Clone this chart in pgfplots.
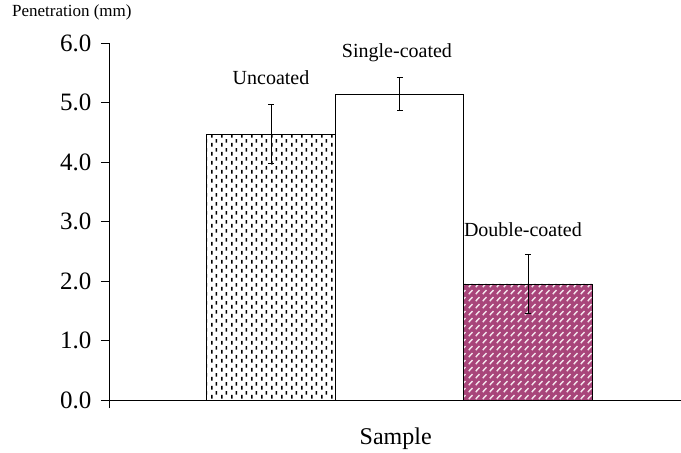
\documentclass[border=0pt]{standalone}
\usepackage{fontspec}
\setmainfont{Liberation Serif}
\usepackage{pgfplots}
\pgfplotsset{compat=1.18}
\usetikzlibrary{patterns}
\definecolor{plum}{RGB}{168,69,122}

\pgfdeclarepatternformonly{vdashes}{\pgfqpoint{0pt}{0pt}}{\pgfqpoint{10pt}{9pt}}{\pgfqpoint{10pt}{9pt}}{%
  \pgfsetlinewidth{1.6pt}%
  \pgfpathmoveto{\pgfqpoint{2pt}{0.4pt}}\pgfpathlineto{\pgfqpoint{2pt}{4.6pt}}%
  \pgfpathmoveto{\pgfqpoint{7pt}{4.9pt}}\pgfpathlineto{\pgfqpoint{7pt}{8.6pt}}%
  \pgfusepath{stroke}}

\pgfdeclarepatternformonly{ddiag}{\pgfqpoint{0pt}{0pt}}{\pgfqpoint{6.5pt}{6.7pt}}{\pgfqpoint{6.5pt}{6.7pt}}{%
  \pgfsetlinewidth{1.5pt}%
  \pgfpathmoveto{\pgfqpoint{0.8pt}{1pt}}\pgfpathlineto{\pgfqpoint{4.8pt}{5pt}}%
  \pgfusepath{stroke}}

\begin{document}
\begin{tikzpicture}
\useasboundingbox (0,0) rectangle (681pt,453pt);
\begin{axis}[
  at={(109pt,53pt)}, anchor=south west,
  scale only axis, width=572pt, height=357pt,
  xmin=-0.2607, xmax=4.19, ymin=0, ymax=6,
  clip=false,
  axis x line=bottom, axis y line=left,
  axis line style={-, line width=0.8pt, black},
  tick align=outside, major tick length=8pt,
  tick style={black, line width=0.8pt},
  ytick={0,1,2,3,4,5,6},
  xtick={-0.2607}, xticklabels={},
  yticklabel style={xshift=-6pt, /pgf/number format/.cd, fixed, fixed zerofill, precision=1, assume math mode=true},
  ticklabel style={font=\fontsize{25}{29}\selectfont},
  xlabel={Sample},
  xlabel style={at={(axis cs:1.97,-0.756)}, anchor=base, font=\fontsize{24}{28}\selectfont},
  error bars/error bar style={line width=0.8pt, black},
  error bars/error mark options={rotate=90, mark size=3pt, line width=0.8pt, black},
]
\addplot[ybar, bar width=1, bar shift=0pt, draw=black, line width=0.8pt, pattern=vdashes,
  error bars/.cd, y dir=both, y explicit] coordinates {(1,4.47) +- (0,0.5)};
\addplot[ybar, bar width=1, bar shift=0pt, draw=black, line width=0.8pt, fill=white,
  error bars/.cd, y dir=both, y explicit] coordinates {(2,5.14) +- (0,0.28)};
\addplot[ybar, bar width=1, bar shift=0pt, draw=black, line width=0.8pt, fill=plum,
  postaction={pattern=ddiag, pattern color=white!85!plum},
  error bars/.cd, y dir=both, y explicit] coordinates {(3,1.95) +- (0,0.5)};
\node[anchor=base, font=\fontsize{20}{24}\selectfont] at (axis cs:1,5.31) {Uncoated};
\node[anchor=base, font=\fontsize{20}{24}\selectfont] at (axis cs:1.98,5.75) {Single-coated};
\node[anchor=base, font=\fontsize{20}{24}\selectfont] at (axis cs:2.96,2.74) {Double-coated};
\node[anchor=base west, inner sep=0pt, font=\fontsize{17}{20}\selectfont] at (axis cs:-1.016,6.44) {Penetration (mm)};
\end{axis}
\end{tikzpicture}
\end{document}
